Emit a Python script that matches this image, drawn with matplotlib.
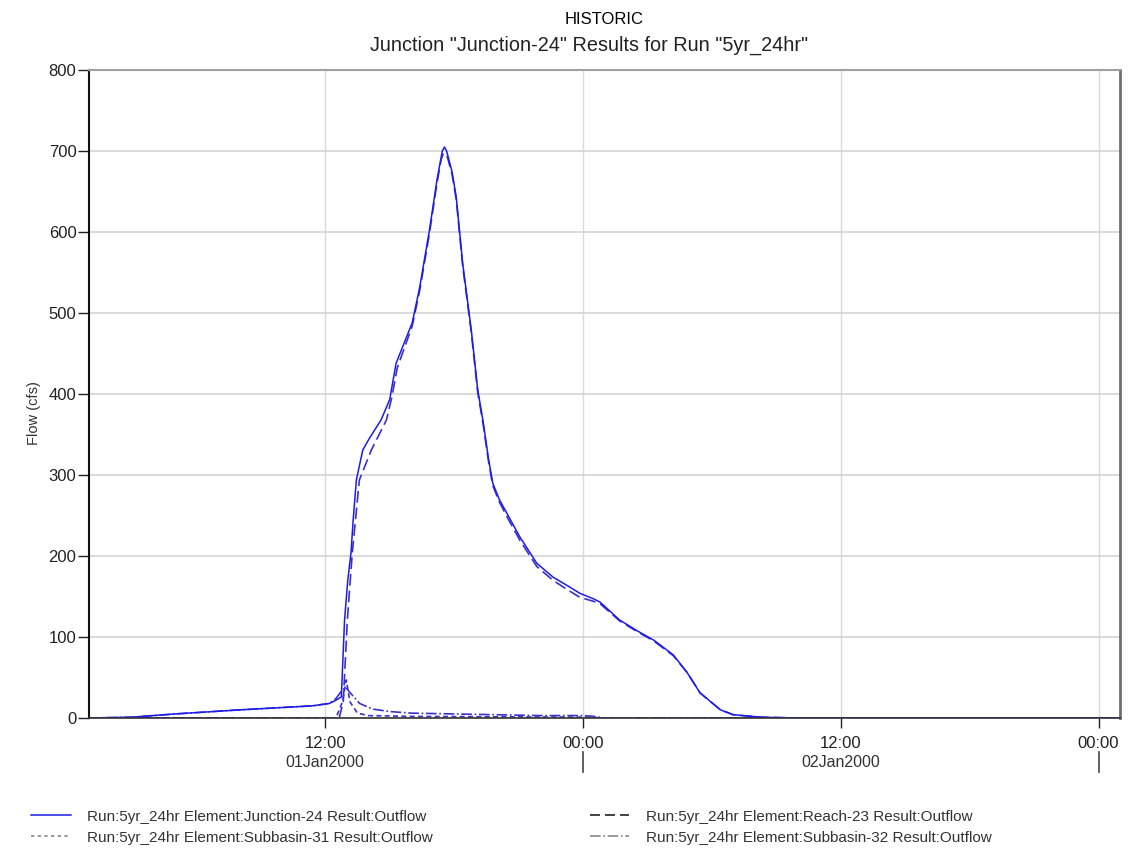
import numpy as np
import matplotlib
matplotlib.use("Agg")
import matplotlib.pyplot as plt
import matplotlib.dates as mdates
from matplotlib.lines import Line2D
import matplotlib.transforms as mtransforms
from datetime import datetime, timedelta

plt.rcParams['font.family'] = ['Liberation Sans', 'DejaVu Sans']

start = datetime(2000, 1, 1, 0, 0)

# hours after 01Jan2000 00:00 and flow (cfs)
junction_hours = [1, 3, 5, 8, 11.4, 12.2, 12.5, 12.75, 12.9, 13.05, 13.2, 13.3, 13.45, 13.75,
                  14.05, 14.6, 15.0, 15.3, 16.05, 16.4, 16.85, 17.2, 17.45, 17.55, 17.65, 17.9,
                  18.1, 18.4, 18.8, 19.1, 19.35, 19.6, 19.8, 20.1, 20.45, 21.05, 21.85, 22.6,
                  23.3, 23.85, 24.5, 24.8, 25.7, 26.5, 27.3, 28.2, 28.85, 29.45, 30.4, 31.0,
                  32.3, 34, 49]
junction_flow = [0, 1, 5, 10, 15, 18, 22, 26, 121, 170, 204, 244, 294, 331,
                 345, 368, 393, 438, 488, 532, 602, 664, 700, 705, 700, 675,
                 643, 561, 479, 405, 366, 320, 290, 270, 253, 224, 191, 174,
                 163, 154, 147, 143, 121, 108, 96, 78, 56, 31, 10, 4,
                 1, 0, 0]

reach_hours = [1, 12.65, 12.84, 13.03, 13.26, 13.59, 14.15, 14.85, 15.1, 15.35, 16.05, 16.4,
               16.85, 17.2, 17.4, 17.5, 17.65, 17.9, 18.1, 18.4, 18.8, 19.1, 19.35, 19.6,
               19.8, 20.1, 20.45, 21.05, 21.85, 22.6, 23.3, 23.85, 24.5, 24.8, 25.7, 26.5,
               27.3, 28.2, 28.85, 29.45, 30.4, 31.0, 32.3, 34, 49]
reach_flow = [0, 0, 20, 121, 204, 294, 331, 368, 396, 432, 484, 528,
              598, 660, 690, 697, 696, 672, 640, 558, 476, 402, 363, 317,
              287, 267, 249, 220, 187, 170, 158, 149, 144, 141, 120, 107,
              95, 77, 56, 31, 10, 4, 1, 0, 0]

sub31_hours = [1, 12.5, 12.8, 12.98, 13.15, 13.5, 14.0, 16.0, 20.0, 24.0, 25.0, 49]
sub31_flow = [0, 0, 20, 47, 20, 6, 3, 2, 1.5, 1, 0, 0]

sub32_hours = [1, 3, 5, 8, 11.4, 12.2, 12.5, 12.75, 12.95, 13.2, 13.6, 14.2, 15.0, 16.0,
               18.0, 20.0, 22.0, 24.0, 24.5, 25.0, 49]
sub32_flow = [0, 1, 5, 10, 15, 18, 24, 33, 38, 30, 18, 11, 8, 6,
              5, 4, 3, 3, 2, 0, 0]

series_labels = ["Run:5yr_24hr Element:Junction-24 Result:Outflow",
                 "Run:5yr_24hr Element:Subbasin-31 Result:Outflow",
                 "Run:5yr_24hr Element:Reach-23 Result:Outflow",
                 "Run:5yr_24hr Element:Subbasin-32 Result:Outflow"]


def to_dates(hours):
    return [start + timedelta(hours=h) for h in hours]


fig = plt.figure(figsize=(11.4, 8.49), dpi=100)
ax = fig.add_axes([0.078, 0.1543, 0.9045, 0.7632])

blue = '#1c1ce8'
purple = '#3a30cc'
ax.plot(to_dates(sub32_hours), sub32_flow, color=purple, lw=1.2, ls='-.')
ax.plot(to_dates(sub31_hours), sub31_flow, color=purple, lw=1.2, ls=(0, (3, 2)))
ax.plot(to_dates(reach_hours), reach_flow, color=purple, lw=1.2, ls=(0, (7, 3)))
ax.plot(to_dates(junction_hours), junction_flow, color=blue, lw=1.1)

ax.set_xlim(start + timedelta(hours=1), start + timedelta(hours=49))
ax.set_ylim(0, 800)
ax.set_yticks(np.arange(0, 801, 100))
ax.set_ylabel("Flow (cfs)", fontsize=10.5, color='#333333')
ax.yaxis.set_label_coords(-0.046, 0.47)

ticks = to_dates([12, 24, 36, 48])
ax.set_xticks(ticks)
ax.xaxis.set_major_formatter(mdates.DateFormatter('%H:%M'))
ax.tick_params(axis='both', labelsize=12, colors='#222222', direction='out', length=7, width=1)
ax.tick_params(axis='y', length=8, pad=1)
ax.tick_params(axis='x', pad=6)

ax.grid(True, axis='y', color='#d4d4d4', lw=1.2)
ax.grid(True, axis='x', color='#dadada', lw=1.0)
ax.set_axisbelow(True)

ax.spines['top'].set_color('#a0a0a0')
ax.spines['top'].set_linewidth(1.5)
ax.spines['right'].set_color('#707070')
ax.spines['right'].set_linewidth(2)
ax.spines['left'].set_color('#111111')
ax.spines['left'].set_linewidth(1.5)
ax.spines['bottom'].set_color('#333333')
ax.spines['bottom'].set_linewidth(1.2)

# day labels and day separators
trans = mtransforms.blended_transform_factory(ax.transData, ax.transAxes)
for day, label in zip(to_dates([12, 36]), ["01Jan2000", "02Jan2000"]):
    ax.text(mdates.date2num(day), -0.068, label, transform=trans, ha='center', va='center',
            fontsize=11.5, color='#333333')
for mid in to_dates([24, 48]):
    x = mdates.date2num(mid)
    ax.plot([x, x], [-0.052, -0.083], transform=trans, color='#444444', lw=1.2, clip_on=False)

fig.text(0.53, 0.977, "HISTORIC", ha='center', va='center', fontsize=12)
fig.text(0.517, 0.947, 'Junction "Junction-24" Results for Run "5yr_24hr"', ha='center',
         va='center', fontsize=14.3, color='#222222')

handles = [Line2D([], [], color=blue, lw=1.1),
           Line2D([], [], color='#888888', lw=1.2, ls=(0, (2, 2))),
           Line2D([], [], color='#222222', lw=1.2, ls=(0, (6, 3))),
           Line2D([], [], color='#888888', lw=1.2, ls='-.')]
fig.legend(handles, series_labels, ncol=2, loc='lower left', bbox_to_anchor=(0.015, -0.011),
           frameon=False, fontsize=11, handlelength=2.6, columnspacing=10.25,
           labelspacing=0.45, handletextpad=1.1, labelcolor='#333333')

fig.savefig("out.png", dpi=100)
